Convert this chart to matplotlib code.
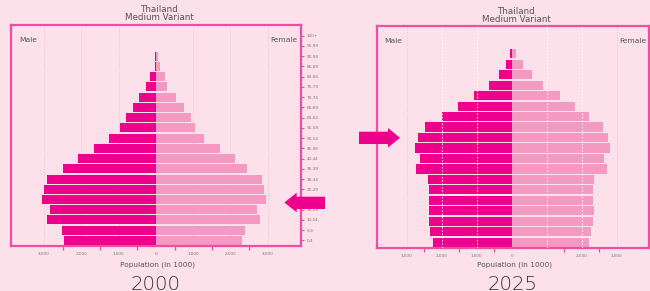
import matplotlib.pyplot as plt
from matplotlib.patches import Polygon

# Population by age group (thousands), 0-4 ... 100+
ages = ['0-4', '5-9', '10-14', '15-19', '20-24', '25-29', '30-34', '35-39',
        '40-44', '45-49', '50-54', '55-59', '60-64', '65-69', '70-74',
        '75-79', '80-84', '85-89', '90-94', '95-99', '100+']
male_2000 = [2450, 2510, 2910, 2830, 3040, 3010, 2930, 2480, 2080, 1650, 1250,
             960, 800, 610, 450, 270, 160, 30, 20, 0, 0]
female_2000 = [2320, 2400, 2800, 2720, 2960, 2900, 2850, 2450, 2110, 1730, 1280,
               1040, 930, 750, 550, 310, 240, 110, 50, 0, 0]
male_2025 = [2250, 2330, 2360, 2360, 2360, 2360, 2390, 2730, 2620, 2760, 2680,
             2480, 1980, 1530, 1080, 650, 360, 160, 50, 0, 0]
female_2025 = [2210, 2270, 2320, 2350, 2320, 2320, 2350, 2720, 2640, 2810, 2750,
               2610, 2210, 1810, 1380, 895, 580, 320, 125, 0, 0]
label_ticks = [-3000, -2000, -1000, 0, 1000, 2000, 3000]
labels_2000 = ['3,000', '2,000', '1,000', '0', '1,000', '2,000', '3,000']
label_ticks_2025 = [-3000, -2000, -1000, 0, 2000, 3000]
labels_2025 = ['3,000', '2,000', '1,000', '0', '2,000', '1,000']

bg = '#fce0ea'
male_c = '#ec008c'
female_c = '#f49ac2'
frame_c = '#ee4fa3'
text_c = '#555555'

fig = plt.figure(figsize=(6.5, 2.91), dpi=100, facecolor=bg)
W, H = 650, 291


def add_px_axes(x0, y0, x1, y1):
    # pixel box (top-left origin) -> figure fraction
    return fig.add_axes([x0 / W, 1 - y1 / H, (x1 - x0) / W, (y1 - y0) / H])


def pyramid(ax, male, female, xlim, ylim, xt, xl, minor, show_age, front_grid):
    y = list(range(len(ages)))
    ax.set_facecolor(bg)
    for g in [-3000, 3000] if front_grid else [-3000, -2000, -1000, 1000, 2000, 3000]:
        ax.axvline(g, color='#f4c4d8', lw=0.7, ls=(0, (1.2, 1.5)), zorder=0)
    ax.barh(y, [-m for m in male], height=0.88, color=male_c, zorder=2)
    ax.barh(y, female, height=0.88, color=female_c, zorder=2)
    if front_grid:
        for g in [-2000, -1000, 1000, 2000]:
            ax.axvline(g, color='white', lw=0.8, alpha=0.8, ls=(0, (1.5, 1.5)), zorder=3)
    ax.set_xlim(*xlim)
    ax.set_ylim(*ylim)
    for s in ax.spines.values():
        s.set_color(frame_c)
        s.set_linewidth(1.6)
    ax.yaxis.tick_right()
    ax.set_yticks(y)
    ax.set_yticklabels(ages if show_age else [])
    ax.tick_params(axis='y', direction='out', length=2.5, width=0.8, color=frame_c,
                   labelsize=3, labelcolor='#777777', pad=1.5)
    ax.set_xticks(xt)
    ax.set_xticklabels(xl)
    ax.set_xticks(minor, minor=True)
    ax.tick_params(axis='x', which='major', length=0, pad=4.5, labelsize=3,
                   labelcolor='#777777')
    ax.tick_params(axis='x', which='minor', direction='out', length=3, width=0.9,
                   color=frame_c)


ax1 = add_px_axes(10.7, 24.7, 301, 246)
pyramid(ax1, male_2000, female_2000, (-3890, 3890), (-0.54, 21.07),
        label_ticks, labels_2000, [-2500, -1500, -500, 500, 1500, 2500], True, False)

ax2 = add_px_axes(376.7, 25.7, 649, 248)
pyramid(ax2, male_2025, female_2025, (-3860, 3920), (-0.55, 20.68),
        label_ticks_2025, labels_2025, [-2500, -1500, -500, 1500, 2500], False, True)

# overlay in pixel coordinates for titles, labels and arrows
ov = fig.add_axes([0, 0, 1, 1])
ov.set_xlim(0, W)
ov.set_ylim(H, 0)
ov.axis('off')
ov.patch.set_visible(False)

for cx, ty, year in [(159, 10, '2000'), (516, 12, '2025')]:
    ov.text(cx, ty, 'Thailand', ha='center', va='center', fontsize=6.3, color=text_c)
    ov.text(cx, ty + 7.5, 'Medium Variant', ha='center', va='center', fontsize=6.3,
            color=text_c)
    ov.text(cx - 1.5, 265, 'Population (in 1000)', ha='center', va='center',
            fontsize=5.3, color=text_c)
    ov.text(cx - 3, 289.5, year, ha='center', va='baseline', fontsize=14.2,
            color='#333333', fontweight='light')

ov.text(19, 39.5, 'Male', ha='left', va='center', fontsize=5.4, color=text_c)
ov.text(297.7, 39.5, 'Female', ha='right', va='center', fontsize=5.4, color=text_c)
ov.text(384, 41, 'Male', ha='left', va='center', fontsize=5.4, color=text_c)
ov.text(646.7, 41, 'Female', ha='right', va='center', fontsize=5.4, color=text_c)

# arrows
ov.add_patch(Polygon([(284.3, 202.5), (296.7, 192.7), (296.7, 196.7), (325, 196.7),
                      (325, 209), (296.7, 209), (296.7, 212.3)],
                     closed=True, color=male_c, lw=0, zorder=5))
ov.add_patch(Polygon([(400, 137.8), (388, 128), (388, 131.7), (359, 131.7),
                      (359, 144), (388, 144), (388, 147.5)],
                     closed=True, color=male_c, lw=0, zorder=5))

plt.savefig('out.png', dpi=100, facecolor=bg)
